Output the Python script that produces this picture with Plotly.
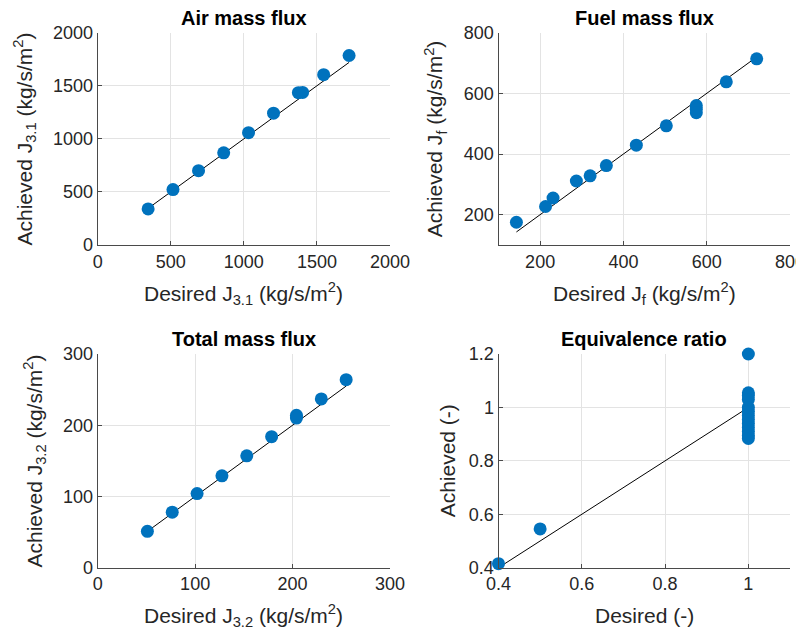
import plotly.graph_objects as go

# ---- data ----
air_desired = [345, 515, 690, 862, 1032, 1203, 1373, 1402, 1546, 1720]
air_achieved = [340, 522, 700, 868, 1058, 1242, 1435, 1437, 1605, 1785]

fuel_desired = [143, 213, 231, 287, 320, 359, 431, 503, 575, 575, 575, 647, 720]
fuel_achieved = [175, 227, 255, 311, 328, 362, 429, 493, 560, 548, 536, 638, 714]

total_desired = [51, 76.5, 102, 127.5, 153, 178.5, 204, 204, 229.5, 255]
total_achieved = [51, 78, 104, 129, 157, 184, 214, 210, 237, 264]

phi_desired = [0.4, 0.5, 1, 1, 1, 1, 1, 1, 1, 1, 1, 1, 1, 1, 1]
phi_achieved = [0.415, 0.545, 1.2, 1.055, 1.045, 1.03, 1.0, 0.985, 0.97, 0.955,
                0.94, 0.925, 0.91, 0.895, 0.884]

titles = ["Air mass flux", "Fuel mass flux", "Total mass flux", "Equivalence ratio"]
xlabels = ["Desired J<sub>3.1</sub> (kg/s/m<sup>2</sup>)",
           "Desired J<sub>f</sub> (kg/s/m<sup>2</sup>)",
           "Desired J<sub>3.2</sub> (kg/s/m<sup>2</sup>)",
           "Desired (-)"]
ylabels = ["Achieved J<sub>3.1</sub> (kg/s/m<sup>2</sup>)",
           "Achieved J<sub>f</sub> (kg/s/m<sup>2</sup>)",
           "Achieved J<sub>3.2</sub> (kg/s/m<sup>2</sup>)",
           "Achieved (-)"]

x_ranges = [[0, 2000], [100, 800], [0, 300], [0.4, 1.1]]
y_ranges = [[0, 2000], [100, 800], [0, 300], [0.4, 1.2]]
x_ticks = [[0, 500, 1000, 1500, 2000], [200, 400, 600, 800], [0, 100, 200, 300], [0.4, 0.6, 0.8, 1]]
x_ticktext = [["0", "500", "1000", "1500", "2000"], ["200", "400", "600", "800"],
              ["0", "100", "200", "300"], ["0.4", "0.6", "0.8", "1"]]
y_ticks = [[0, 500, 1000, 1500, 2000], [200, 400, 600, 800], [0, 100, 200, 300], [0.4, 0.6, 0.8, 1, 1.2]]
y_ticktext = [["0", "500", "1000", "1500", "2000"], ["200", "400", "600", "800"],
              ["0", "100", "200", "300"], ["0.4", "0.6", "0.8", "1", "1.2"]]

datasets = [(air_desired, air_achieved), (fuel_desired, fuel_achieved),
            (total_desired, total_achieved), (phi_desired, phi_achieved)]

# page has an 8px body margin: the figure is drawn from (8, 8)
OFF = 8
W, H = 804 - OFF, 642 - OFF
# pixel boxes in screen coords (left, right, top, bottom)
boxes_screen = [(97.7, 390, 32.7, 245), (498.5, 790, 32.7, 245),
                (97.7, 390, 354, 567.7), (498.5, 790, 354, 567.7)]
boxes = [(l - OFF, r - OFF, t - OFF, b - OFF) for (l, r, t, b) in boxes_screen]
ylabel_offsets = [73, 63, 63, 51]

FONT = "Liberation Sans, Arial, Helvetica, sans-serif"
TXT = "#262626"
BLUE = "#0072BD"

fig = go.Figure()
layout = dict(width=W, height=H, margin=dict(l=0, r=0, t=0, b=0, autoexpand=False),
              paper_bgcolor="white", plot_bgcolor="white", showlegend=False,
              font=dict(family=FONT, size=18, color=TXT))
annotations = []
for i, ((xd, ya), (l, r, t, b)) in enumerate(zip(datasets, boxes)):
    sfx = "" if i == 0 else str(i + 1)
    xa, yaname = "x" + sfx, "y" + sfx
    lo, hi = min(xd), max(xd)
    fig.add_trace(go.Scatter(x=[lo, hi], y=[lo, hi], mode="lines",
                             line=dict(color="black", width=1),
                             xaxis=xa, yaxis=yaname, hoverinfo="skip", cliponaxis=False))
    fig.add_trace(go.Scatter(x=xd, y=ya, mode="markers",
                             marker=dict(color=BLUE, size=13, line=dict(width=0)),
                             xaxis=xa, yaxis=yaname, cliponaxis=False))
    common = dict(showgrid=True, gridcolor="#e3e3e3", gridwidth=1, zeroline=False,
                  showline=True, linecolor="#4a4a4a", linewidth=1,
                  ticks="inside", ticklen=4, tickcolor="#4a4a4a", automargin=False,
                  ticklabeloverflow="allow",
                  tickfont=dict(family=FONT, size=18, color=TXT), fixedrange=True)
    layout["xaxis" + sfx] = dict(common, domain=[l / W, r / W], range=x_ranges[i],
                                 tickvals=x_ticks[i], ticktext=x_ticktext[i],
                                 anchor=yaname)
    layout["yaxis" + sfx] = dict(common, domain=[1 - b / H, 1 - t / H], range=y_ranges[i],
                                 tickvals=y_ticks[i], ticktext=y_ticktext[i],
                                 anchor=xa)
    cx = (l + r) / 2
    annotations.append(dict(text="<b>" + titles[i] + "</b>", x=cx / W, y=1 - (t - 15) / H,
                            xref="paper", yref="paper", showarrow=False,
                            xanchor="center", yanchor="middle",
                            font=dict(family=FONT, size=20, color="black")))
    annotations.append(dict(text=xlabels[i], x=cx / W, y=1 - (b + 48) / H,
                            xref="paper", yref="paper", showarrow=False,
                            xanchor="center", yanchor="middle",
                            font=dict(family=FONT, size=21, color=TXT)))
    annotations.append(dict(text=ylabels[i], x=(l - ylabel_offsets[i]) / W,
                            y=1 - ((t + b) / 2) / H,
                            xref="paper", yref="paper", showarrow=False, textangle=-90,
                            xanchor="center", yanchor="middle",
                            font=dict(family=FONT, size=21, color=TXT)))
layout["annotations"] = annotations
fig.update_layout(**layout)
fig.write_html("out.html")
